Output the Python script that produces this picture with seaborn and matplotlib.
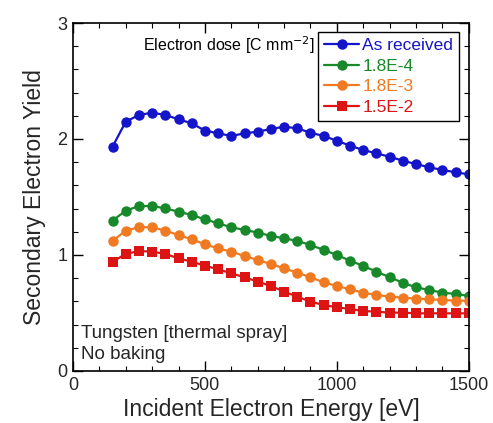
import numpy as np
import pandas as pd
import matplotlib
matplotlib.use("Agg")
import matplotlib.pyplot as plt
import seaborn as sns
from matplotlib.ticker import MultipleLocator

energy = list(range(150, 1501, 50))
as_received = [1.934, 2.149, 2.207, 2.227, 2.207, 2.170, 2.135, 2.072, 2.049, 2.026,
               2.049, 2.063, 2.086, 2.106, 2.092, 2.054, 2.026, 1.985, 1.942, 1.905,
               1.876, 1.847, 1.813, 1.784, 1.756, 1.733, 1.713, 1.695]
dose_18e4 = [1.296, 1.382, 1.422, 1.422, 1.402, 1.373, 1.345, 1.307, 1.273, 1.239,
             1.216, 1.193, 1.164, 1.144, 1.121, 1.086, 1.043, 1.000, 0.951, 0.905,
             0.856, 0.808, 0.761, 0.721, 0.698, 0.675, 0.664, 0.647]
dose_18e3 = [1.121, 1.210, 1.239, 1.239, 1.210, 1.172, 1.135, 1.092, 1.057, 1.029,
             0.991, 0.957, 0.922, 0.885, 0.848, 0.808, 0.764, 0.733, 0.704, 0.675,
             0.655, 0.641, 0.632, 0.624, 0.618, 0.612, 0.606, 0.606]
dose_15e2 = [0.942, 1.009, 1.034, 1.029, 1.009, 0.971, 0.942, 0.908, 0.876, 0.842,
             0.808, 0.770, 0.733, 0.684, 0.641, 0.598, 0.569, 0.549, 0.534, 0.517,
             0.511, 0.503, 0.503, 0.497, 0.497, 0.497, 0.497, 0.497]
labels = ["As received", "1.8E-4", "1.8E-3", "1.5E-2"]
colors = ["#1414C8", "#17892A", "#F07A22", "#DC1414"]
markers = ["o", "o", "o", "s"]

sns.set_style("white")
plt.rcParams['font.family'] = ['Liberation Sans', 'DejaVu Sans']

fig = plt.figure(figsize=(4.93, 4.23), dpi=100)
ax = fig.add_axes([0.148, 0.123, 0.803, 0.8226])

for lab, vals, c, m in zip(labels, [as_received, dose_18e4, dose_18e3, dose_15e2], colors, markers):
    df = pd.DataFrame({"E": energy, "Y": vals})
    sns.lineplot(data=df, x="E", y="Y", ax=ax, color=c, marker=m, markersize=7.5 if m == "o" else 7,
                 markeredgewidth=0, linewidth=1.6, label=lab)

ax.set_xlim(0, 1500)
ax.set_ylim(0, 3)
ax.xaxis.set_major_locator(MultipleLocator(500))
ax.xaxis.set_minor_locator(MultipleLocator(100))
ax.yaxis.set_major_locator(MultipleLocator(1))
ax.yaxis.set_minor_locator(MultipleLocator(0.2))
ax.tick_params(which="both", direction="in", top=True, right=True, bottom=True, left=True,
               color="black")
ax.tick_params(which="major", length=7, width=1, labelsize=13, pad=4)
ax.tick_params(which="minor", length=3.5, width=0.8)
for s in ax.spines.values():
    s.set_color("black")
    s.set_linewidth(1.2)

ax.set_xlabel("Incident Electron Energy [eV]", fontsize=16.5, labelpad=3)
ax.set_ylabel("Secondary Electron Yield", fontsize=16.5, labelpad=8)

leg = ax.legend(loc="upper right", bbox_to_anchor=(0.985, 0.985), frameon=True, fancybox=False,
                edgecolor="black", framealpha=1, fontsize=12.5, handlelength=2.0,
                handletextpad=0.2, borderpad=0.35, labelspacing=0.32, borderaxespad=0.2)
leg.get_frame().set_linewidth(1.0)
for t, c in zip(leg.get_texts(), colors):
    t.set_color(c)

ax.text(0.178, 0.935, "Electron dose [C mm$^{-2}$]", transform=ax.transAxes, fontsize=11.5,
        ha="left", va="center", color="black")
ax.text(0.02, 0.109, "Tungsten [thermal spray]", transform=ax.transAxes, fontsize=13.5,
        ha="left", va="center")
ax.text(0.02, 0.046, "No baking", transform=ax.transAxes, fontsize=13.5,
        ha="left", va="center")

fig.savefig("out.png", dpi=100)
